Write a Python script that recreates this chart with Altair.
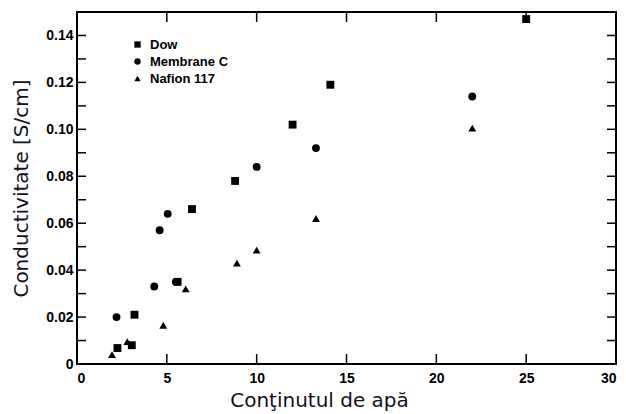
import altair as alt
import pandas as pd

# Data
dow_x = [2.25, 3.05, 3.2, 5.6, 6.4, 8.8, 12.0, 14.1, 25.0]
dow_y = [0.0068, 0.008, 0.021, 0.035, 0.066, 0.078, 0.102, 0.119, 0.147]
memc_x = [2.2, 4.3, 4.6, 5.05, 5.5, 10.0, 13.3, 22.0]
memc_y = [0.020, 0.033, 0.057, 0.064, 0.035, 0.084, 0.092, 0.114]
naf_x = [1.95, 2.8, 4.8, 6.05, 8.9, 10.0, 13.3, 22.0]
naf_y = [0.004, 0.0095, 0.0165, 0.032, 0.043, 0.0485, 0.062, 0.1005]

series_names = ["Dow", "Membrane C", "Nafion 117"]
series_shapes = ["square", "circle", "triangle-up"]

x_ticks = [0, 5, 10, 15, 20, 25, 30]
x_inner_ticks = [5, 10, 15, 20, 25]
y_ticks = [0, 0.02, 0.04, 0.06, 0.08, 0.10, 0.12, 0.14]
y_inner_ticks = [0.01, 0.02, 0.03, 0.04, 0.05, 0.06, 0.07, 0.08, 0.09, 0.10, 0.11, 0.12, 0.13, 0.14]

W, H = 539, 352

rows = []
for name, xs, ys in zip(series_names, [dow_x, memc_x, naf_x], [dow_y, memc_y, naf_y]):
    for a, b in zip(xs, ys):
        rows.append({"x": a, "y": b, "s": name})
df = pd.DataFrame(rows)

xscale = alt.Scale(domain=[0, 30], nice=False, zero=False)
yscale = alt.Scale(domain=[0, 0.15], nice=False, zero=False)

label_font = "Liberation Sans"
title_font = "DejaVu Sans"

points = alt.Chart(df).mark_point(filled=True, opacity=1, size=62, color="black").encode(
    x=alt.X("x:Q", scale=xscale,
            axis=alt.Axis(values=x_ticks, tickSize=0, domain=False, grid=False,
                          labelFont=label_font, labelFontWeight="bold", labelFontSize=14,
                          labelColor="black", labelPadding=7, format="d",
                          title="Conţinutul de apă", titleFont=title_font, titleFontSize=20,
                          titleFontWeight="normal", titleColor="#111122",
                          titleX=242, titleY=42, titleAlign="center", titleBaseline="alphabetic")),
    y=alt.Y("y:Q", scale=yscale,
            axis=alt.Axis(values=y_ticks, tickSize=0, domain=False, grid=False,
                          labelFont=label_font, labelFontWeight="bold", labelFontSize=14,
                          labelColor="black", labelPadding=4,
                          labelExpr="datum.value == 0 ? '0' : format(datum.value, '.2f')",
                          title="Conductivitate [S/cm]", titleFont=title_font, titleFontSize=20,
                          titleFontWeight="normal", titleColor="#111122",
                          titleX=-50, titleY=H / 2, titleAngle=270, titleAlign="center",
                          titleBaseline="alphabetic")),
    shape=alt.Shape("s:N", scale=alt.Scale(domain=series_names, range=series_shapes),
                    legend=alt.Legend(title=None, orient="none", legendX=54, legendY=26,
                                      labelFont=label_font, labelFontWeight="bold",
                                      labelFontSize=13, labelColor="black",
                                      symbolSize=40, symbolFillColor="black",
                                      symbolStrokeColor="black", symbolType="circle",
                                      rowPadding=3, padding=0, labelOffset=6)),
)

ydf = pd.DataFrame({"v": y_inner_ticks})
xdf = pd.DataFrame({"v": x_inner_ticks})

left_ticks = alt.Chart(ydf).mark_rule(color="black", strokeWidth=1.5).encode(
    y=alt.Y("v:Q", scale=yscale), x=alt.value(0), x2=alt.value(9))
right_ticks = alt.Chart(ydf).mark_rule(color="black", strokeWidth=1.5).encode(
    y=alt.Y("v:Q", scale=yscale), x=alt.value(W - 9), x2=alt.value(W))
top_ticks = alt.Chart(xdf).mark_rule(color="black", strokeWidth=1.5).encode(
    x=alt.X("v:Q", scale=xscale), y=alt.value(0), y2=alt.value(10))
bottom_ticks = alt.Chart(xdf).mark_rule(color="black", strokeWidth=1.5).encode(
    x=alt.X("v:Q", scale=xscale), y=alt.value(H - 10), y2=alt.value(H))

chart = alt.layer(points, left_ticks, right_ticks, top_ticks, bottom_ticks).properties(
    width=W, height=H,
    autosize=alt.AutoSizeParams(type="none"),
    padding={"left": 77, "top": 12, "right": 10, "bottom": 50},
    background="white",
).configure_view(stroke="black", strokeWidth=2)

chart.save("out.html", embed_options={"renderer": "svg", "actions": False})
